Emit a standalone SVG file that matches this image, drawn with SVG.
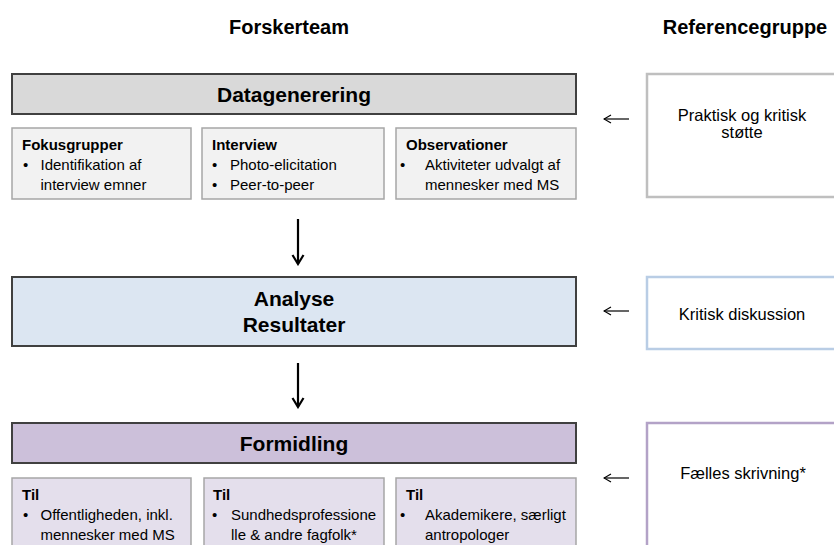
<svg xmlns="http://www.w3.org/2000/svg" width="834" height="545" viewBox="0 0 834 545">
<style>
text{font-family:"Liberation Sans",Arial,sans-serif;fill:#000}
.hdr{font-size:20px;font-weight:bold;text-anchor:middle}
.big{font-size:21px;font-weight:bold;text-anchor:middle}
.ttl{font-size:15px;font-weight:bold}
.bul{font-size:15px}
.ref{font-size:16.5px;text-anchor:middle}
.main{stroke:#404040;stroke-width:2}
.subg{fill:#f2f2f2;stroke:#a6a6a6;stroke-width:1.5}
.subp{fill:#e4dfec;stroke:#a6a6a6;stroke-width:1.5}
.conn{fill:none;stroke:#000}
</style>
<defs>
<marker id="ahL" markerUnits="userSpaceOnUse" viewBox="0 0 10 10" refX="9" refY="5" markerWidth="10" markerHeight="10" orient="auto">
<path d="M2,1 L9,5 L2,9" fill="none" stroke="#000" stroke-width="1.2"/>
</marker>
<marker id="ahD" markerUnits="userSpaceOnUse" viewBox="0 0 14 14" refX="12" refY="7" markerWidth="14" markerHeight="14" orient="auto">
<path d="M3,1.5 L12,7 L3,12.5" fill="none" stroke="#000" stroke-width="2.2"/>
</marker>
</defs>
<rect width="834" height="545" fill="#fff"/>
<g id="headers">
<text class="hdr" x="289" y="34">Forskerteam</text>
<text class="hdr" x="745" y="34">Referencegruppe</text>
</g>
<g id="datagenerering">
<rect class="main" x="12" y="74" width="564" height="40" fill="#d9d9d9"/>
<text class="big" x="294" y="102">Datagenerering</text>
</g>
<g id="fokusgrupper">
<rect class="subg" x="12" y="128" width="179" height="71"/>
<text class="ttl" x="22" y="150">Fokusgrupper</text>
<text class="bul" x="23" y="170">•</text>
<text class="bul" x="40.5" y="170">Identifikation af</text>
<text class="bul" x="40.5" y="190">interview emner</text>
</g>
<g id="interview">
<rect class="subg" x="202" y="128" width="182" height="71"/>
<text class="ttl" x="212" y="150">Interview</text>
<text class="bul" x="212" y="170">•</text>
<text class="bul" x="230" y="170">Photo-elicitation</text>
<text class="bul" x="212" y="190">•</text>
<text class="bul" x="230" y="190">Peer-to-peer</text>
</g>
<g id="observationer">
<rect class="subg" x="396" y="128" width="180" height="71"/>
<text class="ttl" x="406" y="150">Observationer</text>
<text class="bul" x="400" y="170">•</text>
<text class="bul" x="425" y="170">Aktiviteter udvalgt af</text>
<text class="bul" x="425" y="190">mennesker med MS</text>
</g>
<g id="praktisk">
<rect x="647" y="74" width="200" height="123" fill="#fff" stroke="#bfbfbf" stroke-width="2.5"/>
<text class="ref" x="742" y="121">Praktisk og kritisk</text>
<text class="ref" x="742" y="138">støtte</text>
</g>
<g id="analyse">
<rect class="main" x="12" y="277" width="564" height="69" fill="#dce6f2"/>
<text class="big" x="294" y="306">Analyse</text>
<text class="big" x="294" y="332">Resultater</text>
</g>
<g id="kritisk">
<rect x="647" y="277" width="200" height="72" fill="#fff" stroke="#b9cde5" stroke-width="2.5"/>
<text class="ref" x="742" y="320">Kritisk diskussion</text>
</g>
<g id="formidling">
<rect class="main" x="12" y="423" width="564" height="40" fill="#ccc0da"/>
<text class="big" x="294" y="451">Formidling</text>
</g>
<g id="til1">
<rect class="subp" x="12" y="478" width="179" height="80"/>
<text class="ttl" x="22" y="500">Til</text>
<text class="bul" x="23" y="520">•</text>
<text class="bul" x="40.5" y="520">Offentligheden, inkl.</text>
<text class="bul" x="40.5" y="540">mennesker med MS</text>
</g>
<g id="til2">
<rect class="subp" x="204" y="478" width="180" height="80"/>
<text class="ttl" x="213" y="500">Til</text>
<text class="bul" x="212" y="520">•</text>
<text class="bul" x="231" y="520">Sundhedsprofessione</text>
<text class="bul" x="231" y="540">lle &amp; andre fagfolk*</text>
</g>
<g id="til3">
<rect class="subp" x="396" y="478" width="180" height="80"/>
<text class="ttl" x="406" y="500">Til</text>
<text class="bul" x="400" y="520">•</text>
<text class="bul" x="425" y="520">Akademikere, særligt</text>
<text class="bul" x="425" y="540">antropologer</text>
</g>
<g id="faelles">
<rect x="647" y="423" width="200" height="140" fill="#fff" stroke="#b3a2c7" stroke-width="2.5"/>
<text class="ref" x="743" y="479">Fælles skrivning*</text>
</g>
<g id="connectors">
<line class="conn" x1="298" y1="219" x2="298" y2="264" stroke-width="2.2" marker-end="url(#ahD)"/>
<line class="conn" x1="298" y1="363" x2="298" y2="407" stroke-width="2.2" marker-end="url(#ahD)"/>
<line class="conn" x1="629" y1="119" x2="604" y2="119" stroke-width="1.2" marker-end="url(#ahL)"/>
<line class="conn" x1="629" y1="311" x2="604" y2="311" stroke-width="1.2" marker-end="url(#ahL)"/>
<line class="conn" x1="629" y1="478" x2="604" y2="478" stroke-width="1.2" marker-end="url(#ahL)"/>
</g>
</svg>
